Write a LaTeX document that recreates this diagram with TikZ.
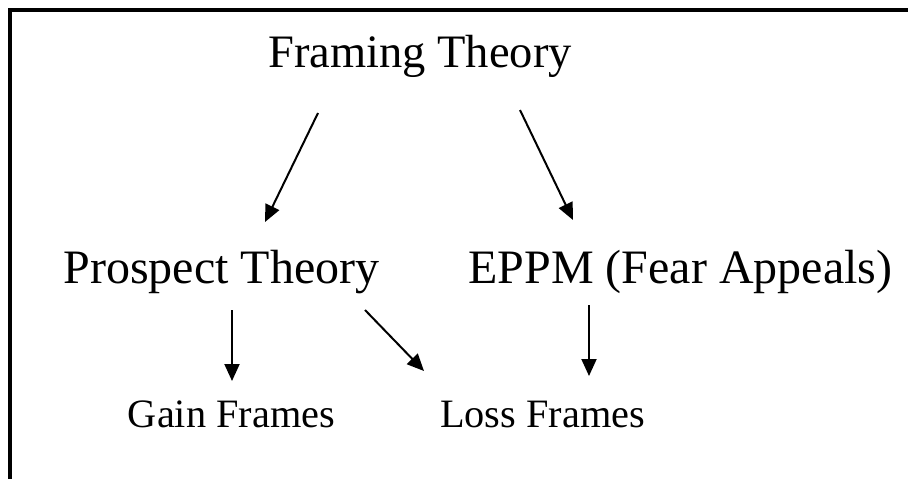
\documentclass[tikz,border=0pt]{standalone}
\usepackage{fontspec}
\setmainfont{Liberation Serif}
\usetikzlibrary{arrows.meta}
\begin{document}
\begin{tikzpicture}[x=1pt,y=-1pt,
  big/.style={anchor=base,inner sep=0pt,font=\fontsize{46.5}{52}\selectfont},
  mid/.style={anchor=base,inner sep=0pt,font=\fontsize{48}{54}\selectfont},
  small/.style={anchor=base,inner sep=0pt,font=\fontsize{40.3}{46}\selectfont},
  conn/.style={line width=2pt,-{Triangle[length=17pt,width=15pt]}}]
\useasboundingbox (0,0) rectangle (908,479);
\draw[line width=4pt,line join=miter] (10,479) -- (10,10) -- (908,10);
\node[big] (ft) at (420,67) {Framing Theory};
\node[mid] (pt) at (221.5,283) {Prospect Theory};
\node[mid] (ep) at (680.5,283) {EPPM (Fear Appeals)};
\node[small] (gf) at (231.5,427) {Gain Frames};
\node[small] (lf) at (542.5,427) {Loss Frames};
\coordinate (a1s) at (318,113); \coordinate (a1e) at (265,222);
\coordinate (a2s) at (520,110); \coordinate (a2e) at (573,220);
\coordinate (a3s) at (232,310); \coordinate (a3e) at (232,381);
\coordinate (a4s) at (365,310); \coordinate (a4e) at (424,371);
\coordinate (a5s) at (589,305); \coordinate (a5e) at (589,376);
\draw[conn] (a1s) -- (a1e);
\draw[conn] (a2s) -- (a2e);
\draw[conn] (a3s) -- (a3e);
\draw[conn] (a4s) -- (a4e);
\draw[conn] (a5s) -- (a5e);
\end{tikzpicture}
\end{document}
